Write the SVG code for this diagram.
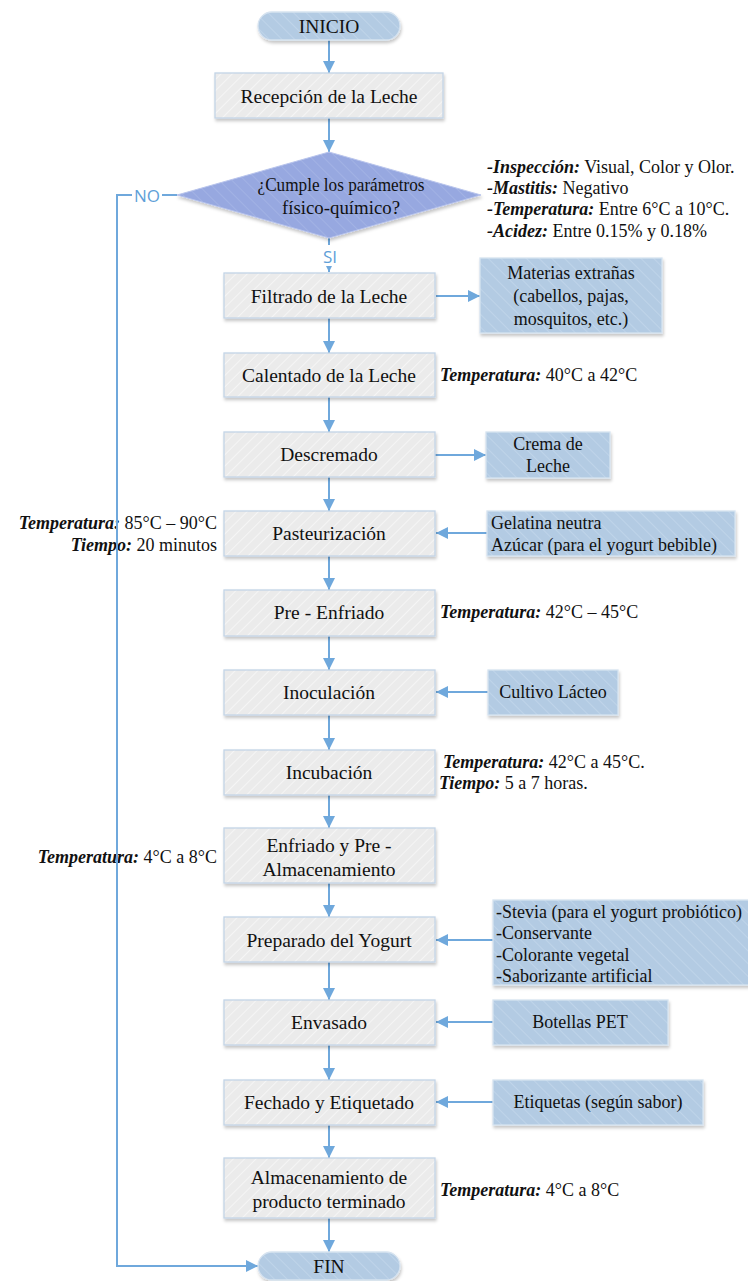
<svg xmlns="http://www.w3.org/2000/svg" width="748" height="1281" viewBox="0 0 748 1281">
  <defs>
    <style>
      .t { font-family: "Liberation Serif", "Times New Roman", serif; fill: #111; }
      .lbl { font-size: 19.5px; text-anchor: middle; dominant-baseline: central; }
      .side { font-size: 18px; dominant-baseline: central; }
      .sidec { font-size: 18px; text-anchor: middle; dominant-baseline: central; }
      .note { font-size: 18px; dominant-baseline: central; }
      .b { font-weight: bold; font-style: italic; }
      .proc { fill: url(#hatchGray); stroke: #c3d4e6; stroke-width: 1.3; filter: url(#shadow); }
      .data { fill: url(#hatchBlue); stroke: #d6e3f0; stroke-width: 1.3; filter: url(#shadow); }
      .term { fill: url(#hatchBlue); stroke: #d6e3f0; stroke-width: 1.3; filter: url(#shadow); }
      .dec { fill: url(#hatchDec); stroke: #b8c4ec; stroke-width: 1; filter: url(#shadow); }
      .conn { fill: none; stroke: #6fa8dc; stroke-width: 2; }
      .tag { font-family: "Open Sans", "Liberation Sans", sans-serif; font-size: 17px; fill: #5f9fd8; text-anchor: middle; dominant-baseline: central; }
    </style>
    <pattern id="hatchGray" patternUnits="userSpaceOnUse" width="8" height="8" patternTransform="rotate(45)">
      <rect width="8" height="8" fill="#ebebeb"/>
      <line x1="0" y1="0" x2="0" y2="8" stroke="#f5f5f5" stroke-width="2"/>
    </pattern>
    <pattern id="hatchBlue" patternUnits="userSpaceOnUse" width="9" height="9" patternTransform="rotate(-45)">
      <rect width="9" height="9" fill="#b3cbe3"/>
      <line x1="0" y1="0" x2="0" y2="9" stroke="#c3d7eb" stroke-width="1.5"/>
    </pattern>
    <pattern id="hatchDec" patternUnits="userSpaceOnUse" width="9" height="9" patternTransform="rotate(-45)">
      <rect width="9" height="9" fill="#97a8e0"/>
      <line x1="0" y1="0" x2="0" y2="9" stroke="#a6b5e6" stroke-width="1.5"/>
    </pattern>
    <filter id="shadow" x="-10%" y="-10%" width="125%" height="140%">
      <feDropShadow dx="1" dy="2.5" stdDeviation="1.6" flood-color="#000" flood-opacity="0.22"/>
    </filter>
    <marker id="arrow" markerUnits="userSpaceOnUse" markerWidth="14" markerHeight="14" refX="12" refY="7" orient="auto">
      <path d="M0,1 L12,7 L0,13 z" fill="#6fa8dc"/>
    </marker>
    <marker id="arrowSmall" markerUnits="userSpaceOnUse" markerWidth="8" markerHeight="8" refX="6" refY="4" orient="auto">
      <path d="M0,1 L6,4 L0,7 z" fill="#6fa8dc"/>
    </marker>
  </defs>

  <rect width="748" height="1281" fill="#ffffff"/>

  <!-- side notes (drawn under the connectors) -->
  <g id="notes" class="t note">
    <text x="487" y="167"><tspan class="b">-Inspección:</tspan> Visual, Color y Olor.</text>
    <text x="487" y="188"><tspan class="b">-Mastitis:</tspan> Negativo</text>
    <text x="487" y="209"><tspan class="b">-Temperatura:</tspan> Entre 6°C a 10°C.</text>
    <text x="487" y="231"><tspan class="b">-Acidez:</tspan> Entre 0.15% y 0.18%</text>
    <text x="440" y="375"><tspan class="b">Temperatura:</tspan> 40°C a 42°C</text>
    <text x="217" y="523" text-anchor="end"><tspan class="b">Temperatura:</tspan> 85°C – 90°C</text>
    <text x="217" y="545" text-anchor="end"><tspan class="b">Tiempo:</tspan> 20 minutos</text>
    <text x="440" y="612"><tspan class="b">Temperatura:</tspan> 42°C – 45°C</text>
    <text x="443" y="762"><tspan class="b">Temperatura:</tspan> 42°C a 45°C.</text>
    <text x="439" y="783"><tspan class="b">Tiempo:</tspan> 5 a 7 horas.</text>
    <text x="217" y="857" text-anchor="end"><tspan class="b">Temperatura:</tspan> 4°C a 8°C</text>
    <text x="440" y="1190"><tspan class="b">Temperatura:</tspan> 4°C a 8°C</text>
  </g>

  <!-- connectors -->
  <g id="connectors">
    <line class="conn" x1="329" y1="40" x2="329" y2="73" marker-end="url(#arrow)"/>
    <line class="conn" x1="329" y1="118" x2="329" y2="152" marker-end="url(#arrow)"/>
    <line class="conn" x1="329" y1="238" x2="329" y2="245"/>
    <text class="tag" x="330" y="256" font-size="16">SI</text>
    <line class="conn" x1="329" y1="266" x2="329" y2="272" marker-end="url(#arrowSmall)"/>
    <line class="conn" x1="329" y1="318" x2="329" y2="353" marker-end="url(#arrow)"/>
    <line class="conn" x1="329" y1="397" x2="329" y2="432" marker-end="url(#arrow)"/>
    <line class="conn" x1="329" y1="477" x2="329" y2="511" marker-end="url(#arrow)"/>
    <line class="conn" x1="329" y1="556" x2="329" y2="590" marker-end="url(#arrow)"/>
    <line class="conn" x1="329" y1="636" x2="329" y2="670" marker-end="url(#arrow)"/>
    <line class="conn" x1="329" y1="715" x2="329" y2="750" marker-end="url(#arrow)"/>
    <line class="conn" x1="329" y1="795" x2="329" y2="828" marker-end="url(#arrow)"/>
    <line class="conn" x1="329" y1="883" x2="329" y2="917" marker-end="url(#arrow)"/>
    <line class="conn" x1="329" y1="962" x2="329" y2="1000" marker-end="url(#arrow)"/>
    <line class="conn" x1="329" y1="1045" x2="329" y2="1080" marker-end="url(#arrow)"/>
    <line class="conn" x1="329" y1="1125" x2="329" y2="1158" marker-end="url(#arrow)"/>
    <line class="conn" x1="329" y1="1218" x2="329" y2="1252" marker-end="url(#arrow)"/>
    <!-- NO branch back to FIN -->
    <line class="conn" x1="177" y1="195" x2="162" y2="195"/>
    <text class="tag" x="147" y="195">NO</text>
    <path class="conn" d="M132,195 L117,195 L117,1266 L258,1266" marker-end="url(#arrow)"/>
    <!-- side flows -->
    <line class="conn" x1="436" y1="296" x2="480" y2="296" marker-end="url(#arrow)"/>
    <line class="conn" x1="435" y1="455" x2="486" y2="455" marker-end="url(#arrow)"/>
    <line class="conn" x1="487" y1="533" x2="436" y2="533" marker-end="url(#arrow)"/>
    <line class="conn" x1="488" y1="692" x2="436" y2="692" marker-end="url(#arrow)"/>
    <line class="conn" x1="493" y1="940" x2="436" y2="940" marker-end="url(#arrow)"/>
    <line class="conn" x1="493" y1="1022" x2="436" y2="1022" marker-end="url(#arrow)"/>
    <line class="conn" x1="493" y1="1102" x2="436" y2="1102" marker-end="url(#arrow)"/>
  </g>

  <!-- main flow -->
  <g id="inicio">
    <rect class="term" x="258" y="12" width="142" height="28" rx="14"/>
    <text class="t lbl" x="329" y="26">INICIO</text>
  </g>
  <g id="recepcion">
    <rect class="proc" x="215" y="73" width="228" height="45"/>
    <text class="t lbl" x="329" y="96">Recepción de la Leche</text>
  </g>
  <g id="decision">
    <polygon class="dec" points="329,152 481,195 329,238 177,195"/>
    <text class="t lbl" x="341" y="184" font-size="18.5" textLength="167" lengthAdjust="spacingAndGlyphs">¿Cumple los parámetros</text>
    <text class="t lbl" x="341" y="207" font-size="18.5" textLength="118" lengthAdjust="spacingAndGlyphs">físico-químico?</text>
  </g>
  <g id="filtrado">
    <rect class="proc" x="224" y="273" width="211" height="45"/>
    <text class="t lbl" x="329" y="296">Filtrado de la Leche</text>
  </g>
  <g id="calentado">
    <rect class="proc" x="224" y="353" width="211" height="44"/>
    <text class="t lbl" x="329" y="375">Calentado de la Leche</text>
  </g>
  <g id="descremado">
    <rect class="proc" x="224" y="432" width="211" height="45"/>
    <text class="t lbl" x="329" y="454">Descremado</text>
  </g>
  <g id="pasteurizacion">
    <rect class="proc" x="224" y="511" width="211" height="45"/>
    <text class="t lbl" x="329" y="533">Pasteurización</text>
  </g>
  <g id="preenfriado">
    <rect class="proc" x="224" y="590" width="211" height="46"/>
    <text class="t lbl" x="329" y="612">Pre - Enfriado</text>
  </g>
  <g id="inoculacion">
    <rect class="proc" x="224" y="670" width="211" height="45"/>
    <text class="t lbl" x="329" y="692">Inoculación</text>
  </g>
  <g id="incubacion">
    <rect class="proc" x="224" y="750" width="211" height="45"/>
    <text class="t lbl" x="329" y="772">Incubación</text>
  </g>
  <g id="enfriado">
    <rect class="proc" x="224" y="828" width="211" height="55"/>
    <text class="t lbl" x="329" y="845">Enfriado y Pre -</text>
    <text class="t lbl" x="329" y="869">Almacenamiento</text>
  </g>
  <g id="preparado">
    <rect class="proc" x="224" y="917" width="211" height="45"/>
    <text class="t lbl" x="329" y="940">Preparado del Yogurt</text>
  </g>
  <g id="envasado">
    <rect class="proc" x="224" y="1000" width="211" height="45"/>
    <text class="t lbl" x="329" y="1022">Envasado</text>
  </g>
  <g id="fechado">
    <rect class="proc" x="224" y="1080" width="211" height="45"/>
    <text class="t lbl" x="329" y="1102">Fechado y Etiquetado</text>
  </g>
  <g id="almacenamiento">
    <rect class="proc" x="224" y="1158" width="211" height="60"/>
    <text class="t lbl" x="329" y="1177">Almacenamiento de</text>
    <text class="t lbl" x="329" y="1201">producto terminado</text>
  </g>
  <g id="fin">
    <rect class="term" x="258" y="1252" width="142" height="28" rx="14"/>
    <text class="t lbl" x="329" y="1266">FIN</text>
  </g>

  <!-- inputs / outputs -->
  <g id="materias">
    <rect class="data" x="480" y="258" width="182" height="75"/>
    <text class="t sidec" x="571" y="273">Materias extrañas</text>
    <text class="t sidec" x="571" y="296">(cabellos, pajas,</text>
    <text class="t sidec" x="571" y="319">mosquitos, etc.)</text>
  </g>
  <g id="crema">
    <rect class="data" x="486" y="432" width="124" height="46"/>
    <text class="t sidec" x="548" y="444">Crema de</text>
    <text class="t sidec" x="548" y="466">Leche</text>
  </g>
  <g id="gelatina">
    <rect class="data" x="487" y="511" width="248" height="45"/>
    <text class="t side" x="491" y="523">Gelatina neutra</text>
    <text class="t side" x="491" y="545">Azúcar (para el yogurt bebible)</text>
  </g>
  <g id="cultivo">
    <rect class="data" x="488" y="670" width="130" height="45"/>
    <text class="t sidec" x="553" y="692">Cultivo Lácteo</text>
  </g>
  <g id="aditivos">
    <rect class="data" x="493" y="900" width="262" height="85"/>
    <text class="t side" x="496" y="912">-Stevia (para el yogurt probiótico)</text>
    <text class="t side" x="496" y="933">-Conservante</text>
    <text class="t side" x="496" y="955">-Colorante vegetal</text>
    <text class="t side" x="496" y="976">-Saborizante artificial</text>
  </g>
  <g id="botellas">
    <rect class="data" x="493" y="1000" width="175" height="45"/>
    <text class="t sidec" x="580" y="1022">Botellas PET</text>
  </g>
  <g id="etiquetas">
    <rect class="data" x="493" y="1080" width="210" height="45"/>
    <text class="t sidec" x="598" y="1102">Etiquetas (según sabor)</text>
  </g>
</svg>
